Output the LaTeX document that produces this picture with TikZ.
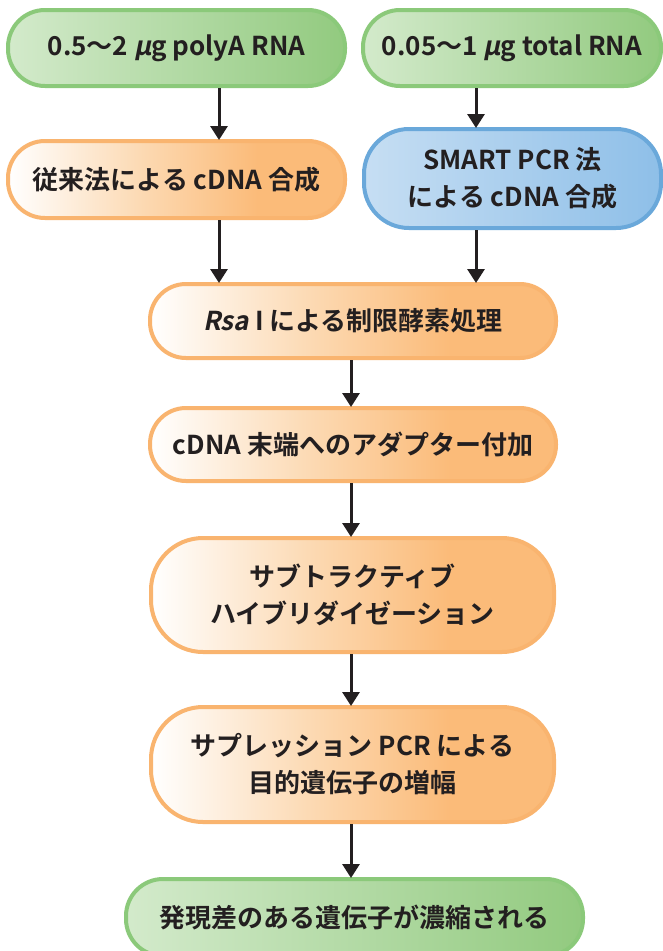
\documentclass[tikz,border=0pt]{standalone}
\usepackage{fontspec}
\setmainfont{Noto Sans CJK JP}[BoldFont={Noto Sans CJK JP Bold}]
\newcommand{\slnt}[1]{{\addfontfeatures{FakeSlant=0.2}#1}}
\usetikzlibrary{arrows.meta}
\definecolor{txt}{HTML}{231F20}
\definecolor{gborder}{HTML}{8BC97A}
\definecolor{gl}{HTML}{D3EACB}
\definecolor{gr}{HTML}{92CA7F}
\definecolor{oborder}{HTML}{F9B46F}
\definecolor{omid}{HTML}{FCD9B2}
\definecolor{or}{HTML}{FBBB79}
\definecolor{bborder}{HTML}{6AA8DA}
\definecolor{bl}{HTML}{C6DEF3}
\definecolor{br}{HTML}{8EBFE8}
\pgfdeclarehorizontalshading{oshade}{100bp}{color(0bp)=(white); color(25bp)=(white); color(45bp)=(omid); color(62bp)=(or); color(100bp)=(or)}
\begin{document}
\begin{tikzpicture}[x=1pt,y=-1pt,
  box/.style={rectangle, line width=4pt, align=center, inner sep=0pt,
    font=\bfseries\fontsize{26}{37}\selectfont, text=txt},
  gbox/.style={box, draw=gborder, left color=gl, right color=gr},
  obox/.style={box, draw=oborder, shading=oshade},
  bbox/.style={box, draw=bborder, left color=bl, right color=br},
  arr/.style={line width=3pt, draw=txt, -{Triangle[width=17pt,length=14pt]}, shorten >=-1pt}]
\useasboundingbox (0,0) rectangle (663,951);
\fill[white] (0,0) rectangle (663,951);

\node[gbox, rounded corners=37pt, minimum width=337pt, minimum height=76pt] (b1) at (176.5,48) {0.5〜2 \slnt{μ}g polyA RNA};
\node[gbox, rounded corners=37pt, minimum width=298pt, minimum height=76pt] (b2) at (512,48) {0.05〜1 \slnt{μ}g total RNA};
\node[obox, rounded corners=37pt, minimum width=337pt, minimum height=77pt] (b3) at (176.5,179.5) {従来法による cDNA 合成};
\node[bbox, rounded corners=45pt, minimum width=297pt, minimum height=99pt] (b4) at (512.5,178.5) {SMART PCR 法\\による cDNA 合成};
\node[obox, rounded corners=36pt, minimum width=406pt, minimum height=74pt] (b5) at (353,321) {\slnt{Rsa} I による制限酵素処理};
\node[obox, rounded corners=36pt, minimum width=406pt, minimum height=73pt] (b6) at (353,444.5) {cDNA 末端へのアダプター付加};
\node[obox, rounded corners=52pt, minimum width=403pt, minimum height=114pt] (b7) at (352.5,595) {サブトラクティブ\\ハイブリダイゼーション};
\node[obox, rounded corners=52pt, minimum width=403pt, minimum height=115pt] (b8) at (352.5,764.5) {サプレッション PCR による\\目的遺伝子の増幅};
\node[gbox, rounded corners=37pt, minimum width=457pt, minimum height=77pt] (b9) at (354.5,917.5) {発現差のある遺伝子が濃縮される};

\coordinate (ax1) at (219,0);
\coordinate (ax2) at (476,0);
\coordinate (ax3) at (351,0);
\draw[arr] (b1.south -| ax1) -- (b3.north -| ax1);
\draw[arr] (b2.south -| ax2) -- (b4.north -| ax2);
\draw[arr] (b3.south -| ax1) -- (b5.north -| ax1);
\draw[arr] (b4.south -| ax2) -- (b5.north -| ax2);
\draw[arr] (b5.south -| ax3) -- (b6.north -| ax3);
\draw[arr] (b6.south -| ax3) -- (b7.north -| ax3);
\draw[arr] (b7.south -| ax3) -- (b8.north -| ax3);
\draw[arr] (b8.south -| ax3) -- (b9.north -| ax3);
\end{tikzpicture}
\end{document}
